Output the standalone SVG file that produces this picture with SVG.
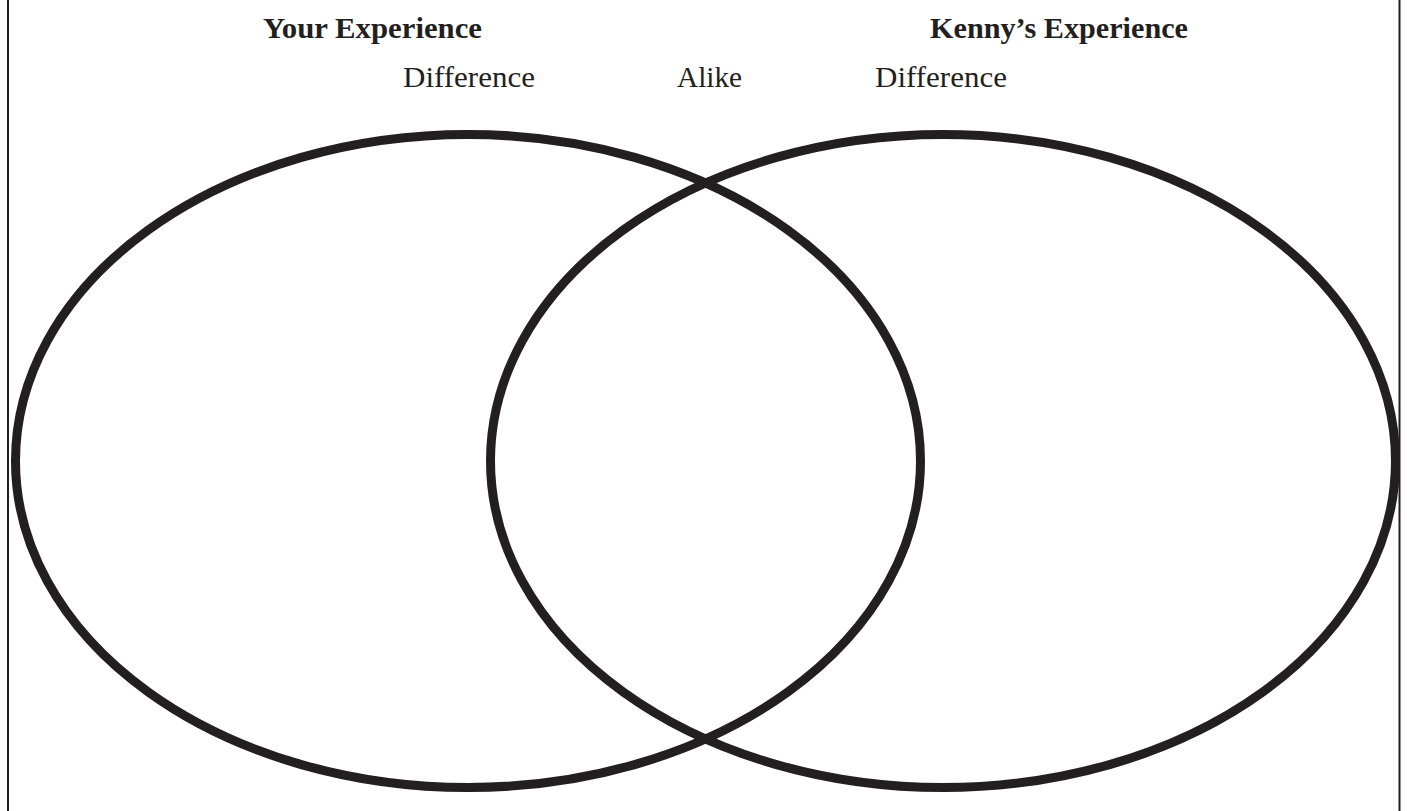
<svg xmlns="http://www.w3.org/2000/svg" width="1407" height="811" viewBox="0 0 1407 811">
  <style>
    .title { font-family: "Liberation Serif", "Times New Roman", serif; font-weight: bold; font-size: 30px; fill: #231f20; }
    .label { font-family: "Liberation Serif", "Times New Roman", serif; font-size: 30px; fill: #231f20; }
    .set { fill: none; stroke: #231f20; stroke-width: 9; }
    .edge { stroke: #231f20; stroke-width: 2; }
  </style>
  <rect x="0" y="0" width="1407" height="811" fill="#ffffff"/>
  <g id="frame">
    <line class="edge" x1="8" y1="0" x2="8" y2="811"/>
    <line class="edge" x1="1399.5" y1="0" x2="1399.5" y2="811"/>
  </g>
  <g id="set-you">
    <ellipse class="set" cx="468" cy="461" rx="452.5" ry="326.5"/>
  </g>
  <g id="set-kenny">
    <ellipse class="set" cx="943" cy="461" rx="452.5" ry="326.5"/>
  </g>
  <g id="labels">
    <text class="title" x="263" y="38" textLength="219" lengthAdjust="spacingAndGlyphs">Your Experience</text>
    <text class="title" x="930" y="38" textLength="258" lengthAdjust="spacingAndGlyphs">Kenny’s Experience</text>
    <text class="label" x="403" y="87" textLength="132" lengthAdjust="spacingAndGlyphs">Difference</text>
    <text class="label" x="677" y="87" textLength="65" lengthAdjust="spacingAndGlyphs">Alike</text>
    <text class="label" x="875" y="87" textLength="132" lengthAdjust="spacingAndGlyphs">Difference</text>
  </g>
</svg>
